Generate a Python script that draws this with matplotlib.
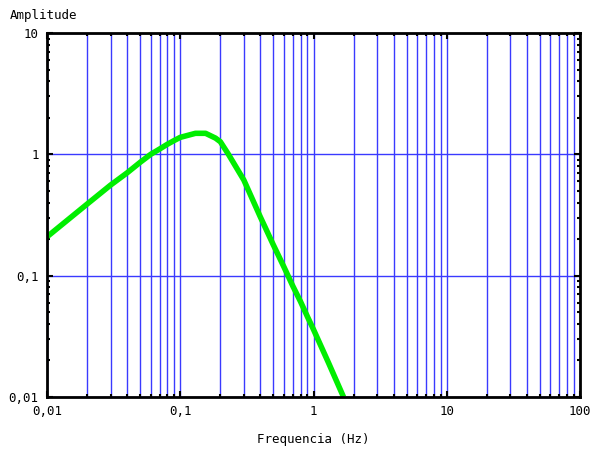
import matplotlib as mpl

mpl.use("Agg")
import matplotlib.pyplot as plt
from matplotlib.ticker import FixedLocator, FixedFormatter, NullFormatter, LogLocator

# curve (frequency in Hz, amplitude)
FREQ = [0.01, 0.02, 0.03, 0.04, 0.05, 0.06, 0.07, 0.08, 0.09, 0.1, 0.13, 0.155,
        0.184, 0.2, 0.23, 0.3, 0.4, 0.5, 0.6, 0.7, 0.8, 0.9, 1.0, 1.3, 1.68]
AMPL = [0.209, 0.389, 0.558, 0.705, 0.859, 1.0, 1.106, 1.21, 1.30, 1.38, 1.49, 1.49,
        1.36, 1.27, 1.0, 0.614, 0.303, 0.179, 0.118, 0.082, 0.061, 0.046, 0.036, 0.019, 0.01]

X_TICKS = [0.01, 0.1, 1, 10, 100]
X_LABELS = ["0,01", "0,1", "1", "10", "100"]
Y_TICKS = [0.01, 0.1, 1, 10]
Y_LABELS = ["0,01", "0,1", "1", "10"]

FONT = "DejaVu Sans Mono"

fig = plt.figure(figsize=(5.9, 4.55), dpi=100)
ax = fig.add_axes([47 / 590, 1 - 397 / 455, (580 - 47) / 590, (397 - 33) / 455])
ax.set_xscale("log")
ax.set_yscale("log")
ax.set_xlim(0.01, 100)
ax.set_ylim(0.01, 10)

ax.xaxis.set_major_locator(FixedLocator(X_TICKS))
ax.xaxis.set_major_formatter(FixedFormatter(X_LABELS))
ax.xaxis.set_minor_locator(LogLocator(base=10, subs=range(2, 10), numticks=20))
ax.xaxis.set_minor_formatter(NullFormatter())
ax.yaxis.set_major_locator(FixedLocator(Y_TICKS))
ax.yaxis.set_major_formatter(FixedFormatter(Y_LABELS))
ax.yaxis.set_minor_locator(LogLocator(base=10, subs=range(2, 10), numticks=20))
ax.yaxis.set_minor_formatter(NullFormatter())

ax.grid(True, which="major", axis="both", color="#3a3aff", linewidth=1.0)
ax.grid(True, which="minor", axis="x", color="#3a3aff", linewidth=1.0)
ax.set_axisbelow(True)

ax.tick_params(which="both", direction="in", top=True, right=True, colors="black",
               labelsize=9, pad=6)
ax.tick_params(which="major", length=4, width=1.5)
ax.tick_params(which="minor", length=2.5, width=1.5)
for lab in ax.get_xticklabels() + ax.get_yticklabels():
    lab.set_family(FONT)

for s in ax.spines.values():
    s.set_linewidth(2)
    s.set_color("black")

ax.plot(FREQ, AMPL, color="#00ee00", linewidth=4, solid_capstyle="butt", solid_joinstyle="round")

fig.text(10 / 590, 1 - 16 / 455, "Amplitude", family=FONT, fontsize=9, va="center", ha="left")
fig.text(313 / 590, 1 - 440 / 455, "Frequencia (Hz)", family=FONT, fontsize=9, va="center", ha="center")

fig.savefig("out.png", dpi=100)
